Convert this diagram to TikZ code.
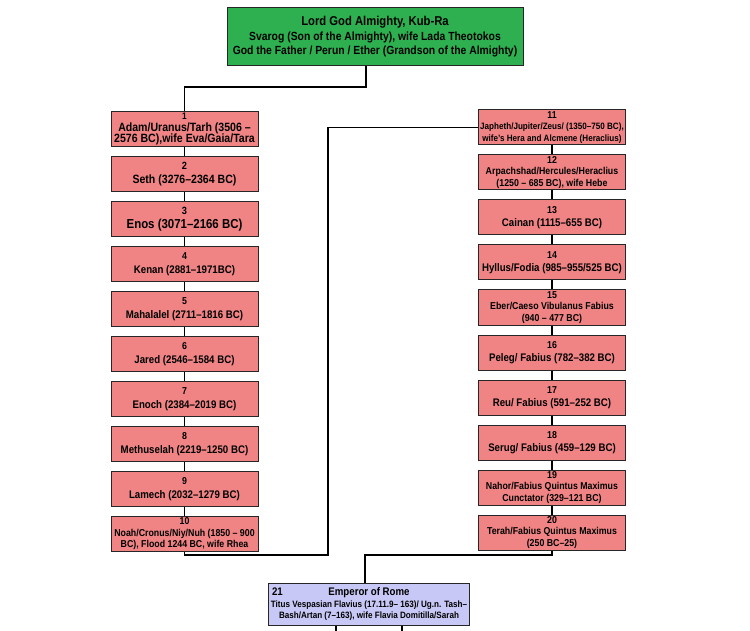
\documentclass[tikz,border=0pt]{standalone}
\usepackage{fontspec}
\setmainfont{Liberation Sans}[FakeStretch=0.88]
\usepackage{tikz}
\usepackage{xcolor}
\usetikzlibrary{positioning}

\definecolor{godgreen}{RGB}{46,176,80}
\definecolor{gencoral}{RGB}{240,132,132}
\definecolor{rulerblue}{RGB}{200,200,246}

\newcommand{\gensize}[1]{\fontsize{#1}{11.5}\selectfont}

\tikzset{
  generation/.style={rectangle, draw=black!85, line width=1pt, fill=gencoral,
    minimum width=147pt, minimum height=35pt, inner sep=1pt, align=center,
    font=\bfseries\gensize{11}},
  textsize/.style={font=\bfseries\gensize{#1}},
  deity/.style={rectangle, draw=black!85, line width=1pt, fill=godgreen,
    minimum width=296pt, minimum height=58pt, inner sep=1pt, align=center,
    font=\bfseries\fontsize{11.8}{14.5}\selectfont},
  ruler/.style={rectangle, draw=black!85, line width=1pt, fill=rulerblue,
    minimum width=200pt, minimum height=42pt, inner sep=2pt, align=center,
    font=\bfseries\fontsize{9.2}{11.5}\selectfont},
  line/.style={draw=black, line width=1.5pt}
}

\begin{document}
\begin{tikzpicture}[x=1pt, y=-1pt, node distance=9pt]
\useasboundingbox (0,0) rectangle (750,631);

\node[deity] (god) at (375,37) {\fontsize{12.8}{14.5}\selectfont Lord God Almighty, Kub-Ra\\
  Svarog (Son of the Almighty), wife Lada Theotokos\\
  God the Father / Perun / Ether (Grandson of the Almighty)};

% left line: Adam to Noah
\node[generation, textsize=12] (adam) at (184.5,129) {\gensize{9.5}1\\Adam/Uranus/Tarh (3506 --\\2576 BC),wife Eva/Gaia/Tara};
\node[generation, textsize=12, below=of adam] (seth) {\gensize{10.5}2\\[2pt]Seth (3276--2364 BC)};
\node[generation, textsize=13, below=of seth] (enos) {\gensize{10.5}3\\[2pt]Enos (3071--2166 BC)};
\node[generation, below=of enos] (kenan) {\gensize{10}4\\[2pt]Kenan (2881--1971BC)};
\node[generation, below=of kenan] (mahalalel) {\gensize{10}5\\[2pt]Mahalalel (2711--1816 BC)};
\node[generation, below=of mahalalel] (jared) {\gensize{10}6\\[2pt]Jared (2546--1584 BC)};
\node[generation, below=of jared] (enoch) {\gensize{10}7\\[2pt]Enoch (2384--2019 BC)};
\node[generation, below=of enoch] (methuselah) {\gensize{10}8\\[2pt]Methuselah (2219--1250 BC)};
\node[generation, below=of methuselah] (lamech) {\gensize{10}9\\[2pt]Lamech (2032--1279 BC)};
\node[generation, textsize=10, below=of lamech] (noah) {10\\Noah/Cronus/Niy/Nuh (1850 -- 900\\BC), Flood 1244 BC, wife Rhea};

% right line: Japheth to Terah
\node[generation, textsize=9.2] (japheth) at (552,127.5) {\gensize{10}11\\Japheth/Jupiter/Zeus/ (1350--750 BC),\\wife's Hera and Alcmene (Heraclius)};
\node[generation, textsize=10, below=of japheth] (arpachshad) {12\\Arpachshad/Hercules/Heraclius\\(1250 -- 685 BC), wife Hebe};
\node[generation, below=of arpachshad] (cainan) {\gensize{10}13\\[2pt]Cainan (1115--655 BC)};
\node[generation, below=of cainan] (hyllus) {\gensize{10}14\\[2pt]Hyllus/Fodia (985--955/525 BC)};
\node[generation, textsize=10, below=of hyllus] (eber) {15\\Eber/Caeso Vibulanus Fabius\\(940 -- 477 BC)};
\node[generation, below=of eber] (peleg) {\gensize{10}16\\[2pt]Peleg/ Fabius (782--382 BC)};
\node[generation, below=of peleg] (reu) {\gensize{10}17\\[2pt]Reu/ Fabius (591--252 BC)};
\node[generation, below=of reu] (serug) {\gensize{10}18\\[2pt]Serug/ Fabius (459--129 BC)};
\node[generation, textsize=10, below=of serug] (nahor) {19\\Nahor/Fabius Quintus Maximus\\Cunctator (329--121 BC)};
\node[generation, textsize=10, below=of nahor] (terah) {20\\Terah/Fabius Quintus Maximus\\(250 BC--25)};

\node[ruler] (titus) at (369,604) {\makebox[194pt]{\gensize{11}21\hfill Emperor of Rome\hfill\phantom{21}}\\
  Titus Vespasian Flavius (17.11.9-- 163)/ Ug.n. Tash--\\
  Bash/Artan (7--163), wife Flavia Domitilla/Sarah};

% joints
\coordinate (jtop) at (366,87);
\coordinate (jleft) at (328,555);
\coordinate (jright) at (365,555);
\coordinate (stubA) at (336,631);
\coordinate (stubB) at (402,631);

\draw[line] (jtop |- god.south) -- (jtop) -| (adam.north);
\foreach \a/\b in {adam/seth, seth/enos, enos/kenan, kenan/mahalalel, mahalalel/jared,
  jared/enoch, enoch/methuselah, methuselah/lamech, lamech/noah,
  japheth/arpachshad, arpachshad/cainan, cainan/hyllus, hyllus/eber, eber/peleg,
  peleg/reu, reu/serug, serug/nahor, nahor/terah}
  \draw[line] (\a.south) -- (\b.north);
\draw[line] (noah.south) |- (jleft) |- (japheth.west);
\draw[line] (terah.south) |- (jright) -- (titus.north -| jright);
\draw[line] (stubA |- titus.south) -- (stubA);
\draw[line] (stubB |- titus.south) -- (stubB);
\end{tikzpicture}
\end{document}
